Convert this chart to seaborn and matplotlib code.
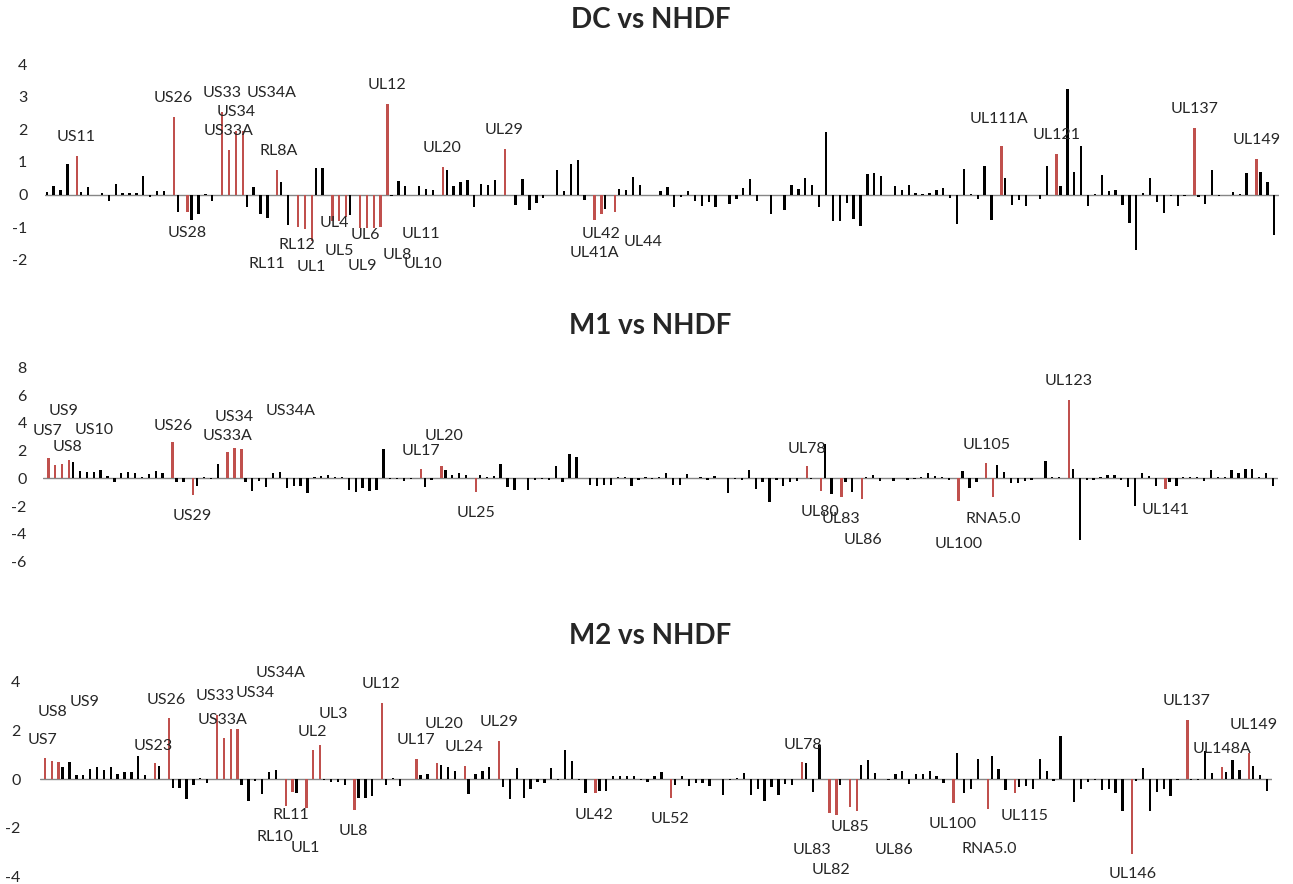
import numpy as np
import pandas as pd
import matplotlib.pyplot as plt
import seaborn as sns

# log2 fold change for each viral gene, 179 genes in genome order
dc_vals = [0.08, 0.28, 0.15, 0.95, 1.19, 0.08, 0.23, -0.02, 0.05, -0.18,
           0.33, 0.05, 0.05, 0.05, 0.56, -0.08, 0.1, 0.1, 2.39, -0.54,
           -0.54, -0.77, -0.59, 0.02, -0.2, 2.52, 1.36, 1.94, 1.94, -0.38,
           0.24, -0.59, -0.72, 0.77, 0.39, -0.93, -1.0, -1.05, -1.42, 0.82,
           0.82, -0.82, -0.82, -0.67, -0.62, -1.03, -1.03, -1.03, -0.98, 2.78,
           -0.03, 0.43, 0.26, 0.0, 0.26, 0.18, 0.15, 0.85, 0.75, 0.26,
           0.39, 0.45, -0.39, 0.34, 0.31, 0.45, 1.4, 0.0, -0.33, 0.47,
           -0.48, -0.26, -0.11, 0.0, 0.75, 0.1, 0.95, 1.05, -0.15, -0.77,
           -0.59, -0.44, -0.52, 0.18, 0.15, 0.54, 0.29, -0.02, 0.0, 0.1,
           0.24, -0.39, -0.08, 0.12, -0.19, -0.34, -0.23, -0.39, 0.0, -0.28,
           -0.13, 0.21, 0.47, -0.2, 0.0, -0.59, 0.0, -0.47, 0.29, 0.18,
           0.5, 0.29, -0.39, 1.91, -0.8, -0.8, -0.26, -0.74, -0.96, 0.62,
           0.67, 0.56, 0.0, 0.26, 0.15, 0.31, 0.05, 0.03, 0.05, 0.15,
           0.21, -0.1, -0.91, 0.8, 0.03, -0.12, 0.88, -0.77, 1.49, 0.5,
           -0.31, -0.15, -0.36, 0.0, -0.13, 0.88, 1.24, 0.25, 3.22, 0.7,
           1.49, -0.36, 0.03, 0.59, 0.12, 0.15, -0.31, -0.86, -1.68, 0.05,
           0.5, -0.23, -0.55, -0.05, -0.36, -0.03, 2.04, -0.08, -0.29, 0.75,
           -0.03, 0.0, 0.08, 0.03, 0.67, 1.1, 0.7, 0.39, -1.24]

m1_vals = [1.44, 0.96, 1.03, 1.34, 1.15, 0.5, 0.48, 0.48, 0.6, 0.17,
           -0.29, 0.38, 0.43, 0.38, 0.12, 0.31, 0.55, 0.38, 2.59, -0.29,
           -0.29, -1.18, -0.58, 0.12, -0.07, 1.03, 1.87, 2.16, 2.11, -0.29,
           -0.89, -0.17, -0.65, 0.38, 0.43, -0.72, -0.53, -0.58, -1.08, 0.12,
           0.19, 0.26, 0.12, 0.07, -0.82, -0.96, -0.72, -0.89, -0.84, 2.11,
           -0.05, -0.07, -0.17, -0.02, 0.67, -0.65, -0.1, 0.86, 0.6, 0.26,
           0.38, 0.26, -0.96, 0.26, 0.07, 0.14, 1.03, -0.6, -0.82, 0.0,
           -0.82, -0.1, -0.05, -0.1, 0.91, -0.29, 1.75, 1.56, 0.0, -0.46,
           -0.55, -0.46, -0.48, 0.07, 0.07, -0.53, -0.1, 0.12, -0.02, 0.07,
           0.36, -0.46, -0.46, 0.31, 0.0, 0.07, -0.1, 0.19, 0.0, -1.08,
           -0.05, -0.1, 0.6, -0.77, -0.29, -1.68, -0.12, -0.58, -0.29, -0.22,
           0.86, -0.07, -0.94, 2.47, -1.13, -1.37, -0.29, -1.0, -1.49, 0.07,
           0.24, -0.17, 0.0, -0.17, 0.0, -0.12, -0.05, 0.12, 0.36, 0.19,
           0.07, -0.12, -1.65, 0.5, -0.7, -0.29, 1.1, -1.37, 0.96, 0.43,
           -0.36, -0.36, -0.17, -0.12, 0.0, 1.22, 0.12, 0.07, 5.66, 0.67,
           -4.44, -0.12, -0.12, 0.07, 0.26, 0.26, -0.1, -0.65, -1.97, 0.36,
           0.14, -0.58, -0.77, -0.29, -0.53, 0.12, 0.07, 0.07, -0.17, 0.62,
           0.12, 0.07, 0.6, 0.38, 0.67, 0.67, 0.07, 0.38, -0.53]

m2_vals = [0.87, 0.76, 0.72, 0.48, 0.69, 0.17, 0.17, 0.41, 0.48, 0.39,
           0.48, 0.23, 0.28, 0.28, 0.94, 0.17, 0.65, 0.55, 2.51, -0.37,
           -0.37, -0.8, -0.25, 0.04, -0.14, 2.62, 1.7, 2.04, 2.04, -0.25,
           -0.9, -0.07, -0.62, 0.28, 0.39, -1.1, -0.52, -0.55, -1.17, 1.21,
           1.41, -0.03, -0.11, -0.11, -0.25, -1.28, -0.76, -0.76, -0.69, 3.14,
           -0.25, 0.04, -0.3, 0.0, 0.83, 0.17, 0.21, 0.65, 0.58, 0.48,
           0.32, 0.55, -0.62, 0.23, 0.32, 0.51, 1.56, -0.32, -0.83, 0.46,
           -0.76, -0.39, -0.11, -0.14, 0.46, -0.04, 1.2, 0.76, -0.04, -0.58,
           -0.58, -0.48, -0.48, 0.14, 0.14, 0.14, 0.11, -0.03, -0.1, 0.11,
           0.3, -0.76, -0.25, 0.11, -0.28, -0.14, -0.14, -0.28, 0.0, -0.65,
           -0.03, 0.04, 0.25, -0.65, -0.41, -0.9, -0.34, -0.65, -0.21, -0.25,
           0.69, 0.65, -0.52, 1.41, -1.38, -1.45, -0.25, -1.13, -1.31, 0.59,
           0.8, 0.25, 0.0, -0.03, 0.21, 0.32, -0.18, 0.21, 0.21, 0.34,
           0.11, -0.14, -0.99, 1.08, -0.55, -0.42, 0.83, -1.24, 0.97, 0.41,
           -0.46, -0.55, -0.32, -0.28, -0.39, 0.83, 0.34, -0.07, 1.77, 0.0,
           -0.92, -0.39, -0.1, -0.03, -0.46, -0.39, -0.55, -1.31, -3.06, -0.07,
           0.46, -1.31, -0.52, -0.39, -0.69, -0.03, 2.44, -0.03, -0.03, 1.17,
           0.25, 0.48, 0.3, 0.8, 0.39, 1.08, 0.52, 0.17, -0.48]

# genes drawn in red (position in gene order)
dc_red = [4, 18, 20, 25, 26, 27, 28, 33, 36, 37, 38, 41, 42, 43, 45, 46, 47, 48,
          49, 57, 66, 79, 80, 82, 138, 146, 166, 175]
m1_red = [0, 1, 2, 3, 18, 21, 26, 27, 28, 54, 57, 62, 110, 112, 115, 118, 132,
          136, 137, 148, 162]
m2_red = [0, 1, 2, 16, 18, 25, 26, 27, 28, 35, 36, 38, 39, 40, 45, 49, 54, 57,
          61, 66, 80, 91, 110, 114, 115, 117, 118, 132, 137, 141, 158, 166, 171, 175]

# gene name labels: (text, gene position, value position)
dc_labels = [("US11", 4.1, 1.75), ("US26", 18.2, 2.97), ("US33", 25.2, 3.1),
             ("US34A", 32.4, 3.1), ("US34", 27.2, 2.53), ("US33A", 26.1, 1.94),
             ("RL8A", 33.4, 1.34), ("US28", 20.2, -1.16), ("RL12", 36.0, -1.53),
             ("RL11", 31.7, -2.12), ("UL1", 38.2, -2.22), ("UL4", 41.5, -0.88),
             ("UL5", 42.2, -1.73), ("UL6", 46.0, -1.24), ("UL9", 45.5, -2.17),
             ("UL8", 50.6, -1.84), ("UL11", 54.1, -1.19), ("UL10", 54.3, -2.12),
             ("UL12", 49.1, 3.35), ("UL20", 57.1, 1.42), ("UL29", 66.1, 1.99),
             ("UL42", 80.1, -1.21), ("UL41A", 79.2, -1.78), ("UL44", 86.3, -1.45),
             ("UL111A", 137.9, 2.32), ("UL121", 146.2, 1.84), ("UL137", 166.2, 2.61),
             ("UL149", 175.2, 1.68)]
m1_labels = [("US9", 2.4, 4.82), ("US7", 0.1, 3.43), ("US10", 6.9, 3.48),
             ("US8", 3.0, 2.23), ("US26", 18.3, 3.74), ("US34", 27.2, 4.44),
             ("US33A", 26.2, 3.07), ("US34A", 35.4, 4.82), ("US29", 21.1, -2.69),
             ("UL20", 57.6, 3.02), ("UL17", 54.2, 1.99), ("UL25", 62.2, -2.52),
             ("UL78", 110.2, 2.12), ("UL80", 112.1, -2.45), ("UL83", 115.1, -2.93),
             ("UL86", 118.3, -4.44), ("UL100", 132.2, -4.73), ("UL105", 136.2, 2.43),
             ("RNA5.0", 137.3, -2.93), ("UL123", 148.1, 6.99), ("UL141", 162.2, -2.28)]
m2_labels = [("US7", -0.1, 1.61), ("US8", 1.3, 2.75), ("US9", 6.0, 3.17),
             ("US26", 17.9, 3.26), ("US23", 16.0, 1.38), ("US33", 24.9, 3.41),
             ("US34", 30.7, 3.55), ("US34A", 34.4, 4.36), ("US33A", 26.0, 2.44),
             ("UL2", 39.1, 1.95), ("UL3", 42.1, 2.69), ("RL11", 36.0, -1.45),
             ("RL10", 33.6, -2.38), ("UL1", 38.0, -2.83), ("UL12", 49.0, 3.9),
             ("UL8", 45.0, -2.14), ("UL17", 54.1, 1.61), ("UL20", 58.2, 2.27),
             ("UL24", 61.1, 1.31), ("UL29", 66.2, 2.34), ("UL42", 80.0, -1.45),
             ("UL52", 91.1, -1.63), ("UL78", 110.3, 1.42), ("UL85", 117.2, -1.97),
             ("UL83", 111.7, -2.89), ("UL82", 114.4, -3.72), ("UL86", 123.6, -2.89),
             ("UL100", 132.1, -1.83), ("RNA5.0", 137.5, -2.87), ("UL115", 142.5, -1.52),
             ("UL146", 158.2, -3.9), ("UL137", 166.1, 3.21), ("UL148A", 171.2, 1.24),
             ("UL149", 175.9, 2.24)]

titles = ["DC vs NHDF", "M1 vs NHDF", "M2 vs NHDF"]

sns.set_style("white")
plt.rcParams['font.family'] = ['Lato', 'DejaVu Sans']
plt.rcParams['axes.unicode_minus'] = False


def make_df(vals, red):
    df = pd.DataFrame({'gene': np.arange(len(vals)), 'value': vals})
    df['group'] = np.where(df['gene'].isin(red), 'red', 'other')
    return df


fig = plt.figure(figsize=(12.93, 8.84), dpi=100)

# axes boxes: left, bottom, width, height (figure fraction)
panels = [
    (dc_vals, dc_red, dc_labels, [0.0346, 0.7059, 0.9547, 0.2217], (-2, 4), 1, 12.5, 0.977),
    (m1_vals, m1_red, m1_labels, [0.0336, 0.3646, 0.9547, 0.2199], (-6, 8), 2, 12.0, 0.631),
    (m2_vals, m2_red, m2_labels, [0.0309, 0.0083, 0.9528, 0.2206], (-4, 4), 2, 14.0, 0.2805),
]

for i, (vals, red, labels, pos, ylim, step, pad, ty) in enumerate(panels):
    ax = fig.add_axes(pos)
    df = make_df(vals, red)
    sns.barplot(data=df, x='gene', y='value', hue='group', hue_order=['other', 'red'],
                palette={'other': 'black', 'red': '#C0504D'}, dodge=True,
                width=0.85, gap=0.2, saturation=1, linewidth=0, errorbar=None,
                legend=False, ax=ax)
    ax.axhline(0, color='#868686', lw=1, zorder=0)
    ax.set_xlim(-0.5, len(vals) - 0.5)
    ax.set_ylim(*ylim)
    ax.set_yticks(range(ylim[0], ylim[1] + 1, step))
    ax.set_xticks([])
    ax.set_xlabel('')
    ax.set_ylabel('')
    ax.tick_params(axis='y', length=0, pad=pad, labelsize=11.5)
    sns.despine(ax=ax, left=True, bottom=True)
    for name, x, y in labels:
        ax.text(x, y, name, ha='center', va='center', fontsize=11.5, clip_on=False)
    fig.text(0.503, ty, titles[i], ha='center', va='center', fontsize=20, fontweight='bold')

fig.savefig('out.png', dpi=100)
